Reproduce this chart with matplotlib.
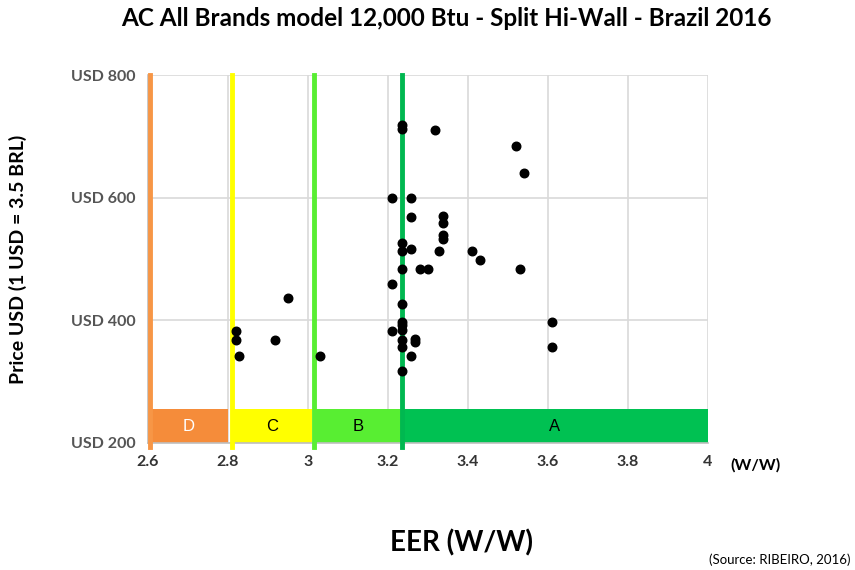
import matplotlib.pyplot as plt
from matplotlib.patches import Rectangle

# EER (W/W) and price (USD) of each model
eer = [3.235, 3.235, 3.318, 3.209, 3.258, 3.258, 3.338, 3.338, 3.338, 3.338,
       3.235, 3.235, 3.258, 3.328, 3.409, 3.431, 3.235, 3.28, 3.30, 3.209,
       3.235, 3.235, 3.209, 3.235, 3.235, 3.235, 3.267, 3.267, 3.235, 3.258,
       3.235, 2.819, 2.819, 2.828, 2.917, 2.949, 3.03, 3.521, 3.539, 3.53,
       3.611, 3.611]
price = [718, 712, 711, 599, 599, 569, 570, 559, 539, 532,
         527, 513, 517, 513, 513, 498, 484, 484, 484, 460,
         427, 398, 383, 392, 384, 368, 369, 364, 356, 341,
         317, 383, 368, 342, 368, 437, 342, 685, 641, 483,
         398, 356]

# energy label classes (Brazil, PBE)
classes = ['D', 'C', 'B', 'A']
class_start = [2.605, 2.81, 3.015, 3.235]
class_end = [2.80, 3.01, 3.235, 4.0]
band_colors = ['#F58C3A', '#FFFF00', '#58EE32', '#00C152']
line_colors = ['#F79646', '#FFFF00', '#58EE32', '#00B850']
label_colors = ['white', 'black', 'black', 'black']

xticks = [2.6, 2.8, 3.0, 3.2, 3.4, 3.6, 3.8, 4.0]
xticklabels = ['2.6', '2.8', '3', '3.2', '3.4', '3.6', '3.8', '4']
yticks = [200, 400, 600, 800]
yticklabels = ['USD 200', 'USD 400', 'USD 600', 'USD 800']

fnt = ['Lato', 'DejaVu Sans']

fig = plt.figure(figsize=(8.55, 5.7), dpi=100)
ax = fig.add_axes([0.173, 0.223, 0.655, 0.645])
ax.set_xlim(2.6, 4.0)
ax.set_ylim(200, 800)

ax.set_xticks(xticks)
ax.set_xticklabels(xticklabels, fontsize=11.5, fontweight='bold', family=fnt, color='#333333')
ax.set_yticks(yticks)
ax.set_yticklabels(yticklabels, fontsize=11.5, fontweight='bold', family=fnt, color='#555555')
ax.tick_params(length=0, pad=9)
ax.grid(True, color='#D9D9D9', linewidth=1.2)
ax.set_axisbelow(True)
for s in ['top', 'right']:
    ax.spines[s].set_visible(False)
for s in ['left', 'bottom']:
    ax.spines[s].set_color('#BFBFBF')
    ax.spines[s].set_linewidth(1.2)

# coloured class bands at the bottom
for c, x0, x1, bc, tc in zip(classes, class_start, class_end, band_colors, label_colors):
    ax.add_patch(Rectangle((x0, 200), x1 - x0, 55, facecolor=bc, edgecolor='none', zorder=2))
    ax.text((x0 + x1) / 2, 227, c, ha='center', va='center', fontsize=12, color=tc, zorder=3,
            family=['Liberation Sans', 'DejaVu Sans'])

for x0, lc in zip(class_start, line_colors):
    ax.plot([x0, x0], [194, 800], color=lc, linewidth=3.5, zorder=4, clip_on=False)

ax.scatter(eer, price, s=38, color='black', zorder=5)

ax.text(4.055, 164, '(W/W)', fontsize=11.5, fontweight='bold', family=fnt, va='center',
        ha='left', clip_on=False)
ax.text(-0.232, 0.5, 'Price USD (1 USD = 3.5 BRL)', rotation=90, transform=ax.transAxes,
        fontsize=14, fontweight='bold', family=fnt, ha='center', va='center')
fig.text(0.522, 0.967, 'AC All Brands model 12,000 Btu - Split Hi-Wall - Brazil 2016',
         fontsize=17.5, fontweight='bold', family=fnt, ha='center', va='center')
fig.text(0.54, 0.047, 'EER (W/W)', fontsize=20, fontweight='bold', family=fnt,
         ha='center', va='center')
fig.text(0.995, 0.018, '(Source: RIBEIRO, 2016)', fontsize=9.5, family=fnt,
         ha='right', va='center')

fig.savefig('out.png', dpi=100)
